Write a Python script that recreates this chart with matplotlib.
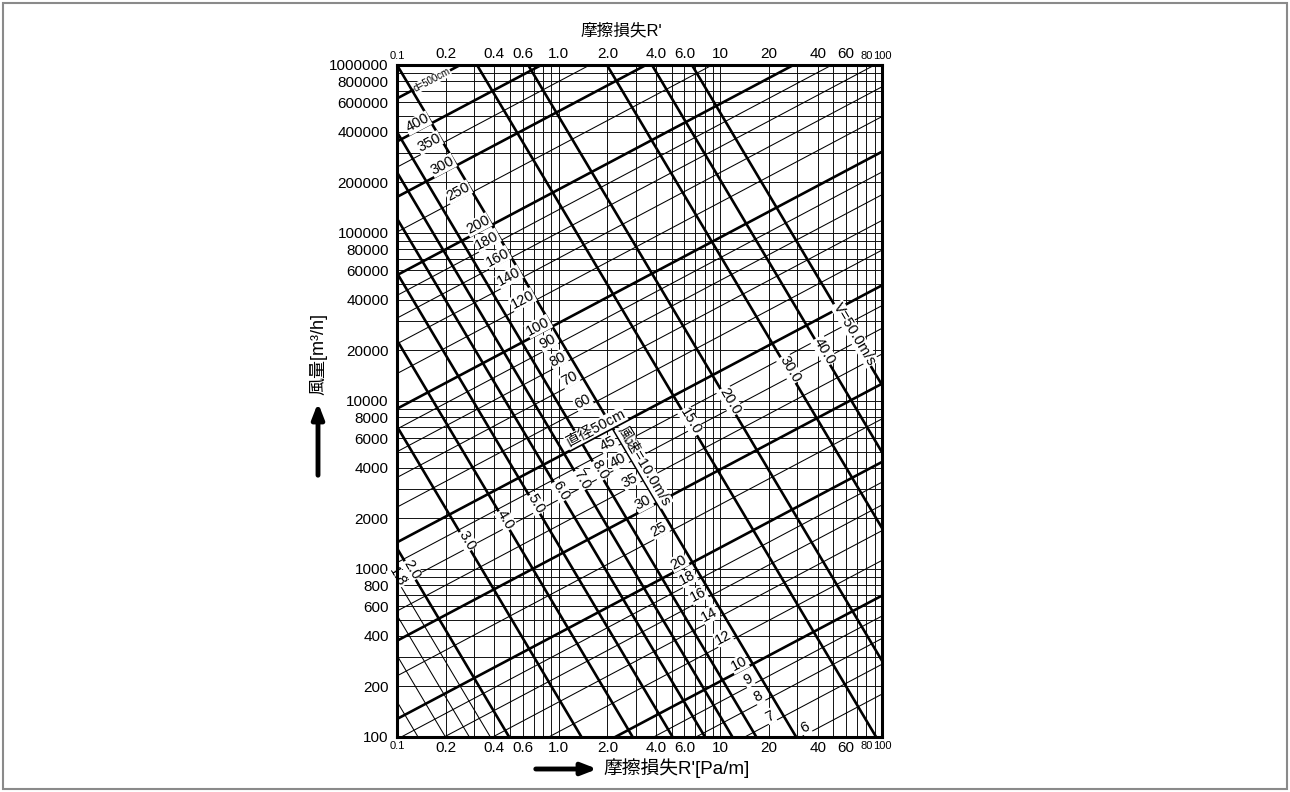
import numpy as np
import matplotlib
matplotlib.use("Agg")
import matplotlib.pyplot as plt
from matplotlib.patches import Rectangle
from matplotlib.ticker import LogLocator, NullFormatter

plt.rcParams['font.family'] = ['Liberation Sans', 'Noto Sans CJK JP', 'DejaVu Sans']

# duct diameter lines [cm]: air volume [m3/h] where each line meets R'=0.1 and R'=100 Pa/m
diam_cm = [500, 400, 350, 300, 250, 200, 180, 160, 140, 120, 100, 90, 80, 70, 60,
           50, 45, 40, 35, 30, 25, 20, 18, 16, 14, 12, 10, 9, 8, 7, 6]
diam_q_r01 = [632000, 350400, 246500, 163900, 101300, 56150, 42500, 31140, 21890, 14560,
              8996, 6810, 4989, 3506, 2334, 1441, 1091, 799, 562, 374, 231, 128, 97, 71,
              49.9, 33.2, 20.5, 15.5, 11.4, 8.0, 5.31]
diam_q_r100 = [21412000, 11872000, 8351000, 5553000, 3432000, 1902000, 1440000, 1055000,
               741600, 493300, 304800, 230700, 169000, 118800, 79080, 48820, 36960, 27070,
               19040, 12670, 7826, 4337, 3286, 2405, 1691, 1125, 694.5, 525, 386, 271, 180]
diam_bold = [500, 400, 300, 200, 100, 50, 30, 20, 10]

# air velocity lines [m/s]: air volume [m3/h] at R'=0.1 and R'=100 Pa/m
vel_ms = [1.2, 1.4, 1.6, 1.8, 2.0, 3.0, 4.0, 5.0, 6.0, 7.0, 8.0, 10.0, 15.0, 20.0, 30.0, 40.0, 50.0]
vel_q_r01 = [162.6, 306, 531, 862, 1330, 7060, 23000, 57800, 122000, 230000, 399000,
             1.0e6, 6.33e6, 2.06e7, 1.27e8, 3.59e8, 9.02e8]
vel_q_r100 = [0.002244, 0.004223, 0.007328, 0.0119, 0.01835, 0.09743, 0.3174, 0.7976, 1.684,
              3.174, 5.506, 13.8, 87.35, 284.3, 1753, 4954, 12450]
vel_thin = [1.2, 1.4, 1.6, 1.8]
vel_unlabeled = [1.2, 1.4, 1.6]

x_ticks = [0.1, 0.2, 0.4, 0.6, 1, 2, 4, 6, 10, 20, 40, 60, 80, 100]
x_ticklabels = ['0.1', '0.2', '0.4', '0.6', '1.0', '2.0', '4.0', '6.0', '10', '20', '40', '60', '80', '100']
y_ticks = [100, 200, 400, 600, 800, 1000, 2000, 4000, 6000, 8000, 10000, 20000, 40000,
           60000, 80000, 100000, 200000, 400000, 600000, 800000, 1000000]

R0, R1 = 0.1, 100

fig = plt.figure(figsize=(12.9, 7.92), dpi=100)
ax = fig.add_axes([397 / 1290, 55 / 792, 485 / 1290, 672 / 792])
ax.set_xscale('log')
ax.set_yscale('log')
ax.set_xlim(R0, R1)
ax.set_ylim(100, 1000000)

# grid
for axis in (ax.xaxis, ax.yaxis):
    axis.set_minor_locator(LogLocator(base=10, subs=range(2, 10)))
    axis.set_minor_formatter(NullFormatter())
ax.set_xticks(x_ticks)
ax.set_xticklabels(x_ticklabels)
ax.set_yticks(y_ticks)
ax.set_yticklabels([str(v) for v in y_ticks])
ax.grid(True, which='both', color='#111111', lw=0.7, zorder=1)
ax.tick_params(axis='x', which='both', length=0, top=True, labeltop=True, pad=3, labelsize=11)
ax.tick_params(axis='y', which='both', length=0, pad=6, labelsize=11)
for t in ax.xaxis.get_major_ticks():
    if t.label1.get_text() in ('0.1', '80', '100'):
        t.label1.set_fontsize(8)
        t.label2.set_fontsize(8)
for s in ax.spines.values():
    s.set_linewidth(2.2)
    s.set_zorder(8)

# lines
for d, ql, qr in zip(diam_cm, diam_q_r01, diam_q_r100):
    lw = 1.9 if d in diam_bold else 0.75
    ax.plot([R0, R1], [ql, qr], color='black', lw=lw, solid_capstyle='butt', zorder=3)
for v, ql, qr in zip(vel_ms, vel_q_r01, vel_q_r100):
    lw = 0.75 if v in vel_thin else 1.9
    ax.plot([R0, R1], [ql, qr], color='black', lw=lw, solid_capstyle='butt', zorder=3)


def crossing(a, b):
    # intersection of two straight lines on the log-log plane
    x0, span = np.log10(R0), np.log10(R1) - np.log10(R0)
    a0, b0 = np.log10(a[0]), np.log10(b[0])
    ma = (np.log10(a[1]) - a0) / span
    mb = (np.log10(b[1]) - b0) / span
    t = (b0 - a0) / (ma - mb)
    return 10 ** (x0 + t), 10 ** (a0 + ma * t)


def angle(line):
    p1 = ax.transData.transform((R0, line[0]))
    p2 = ax.transData.transform((R1, line[1]))
    return np.degrees(np.arctan2(p2[1] - p1[1], p2[0] - p1[0]))


v10 = (vel_q_r01[vel_ms.index(10.0)], vel_q_r100[vel_ms.index(10.0)])
d40 = (diam_q_r01[diam_cm.index(40)], diam_q_r100[diam_cm.index(40)])
box = dict(boxstyle='square,pad=0.04', fc='white', ec='none')

for d, ql, qr in zip(diam_cm, diam_q_r01, diam_q_r100):
    line = (ql, qr)
    x, y = crossing(line, v10)
    rot = angle(line)
    txt, off, ha, fs = str(d), (-14, 0), 'center', 10.5
    if d == 500:
        txt, off, ha, fs = 'd=500cm', (2, 1), 'left', 7
    elif d == 50:
        txt, off = '直径50cm', (-17, 0)
    elif d == 6:
        off = (8, 11)
    ax.annotate(txt, (x, y), xytext=off, textcoords='offset pixels', rotation=rot,
                rotation_mode='anchor', ha=ha, va='center', fontsize=fs, bbox=box,
                zorder=6, annotation_clip=False)

for v, ql, qr in zip(vel_ms, vel_q_r01, vel_q_r100):
    if v in vel_unlabeled:
        continue
    line = (ql, qr)
    x, y = crossing(line, d40)
    rot = angle(line)
    txt, off = f'{v:.1f}', (-2, 7)
    if v == 10.0:
        txt, off = '風速=10.0m/s', (12, -5)
    elif v == 50.0:
        txt, off = 'V=50.0m/s', (-2, 8)
    ax.annotate(txt, (x, y), xytext=off, textcoords='offset pixels', rotation=rot,
                rotation_mode='anchor', ha='center', va='center', fontsize=10.5, bbox=box,
                zorder=6, annotation_clip=False)

# axis titles and arrows
fig.text(621 / 1290, 1 - 31 / 792, "摩擦損失R'", ha='center', va='center', fontsize=12)
fig.text(603 / 1290, 24 / 792, "摩擦損失R'[Pa/m]", ha='left', va='center', fontsize=13.5)
fig.text(318 / 1290, 438 / 792, '風量[m³/h]', ha='center', va='center', rotation=90, fontsize=13)
ax.annotate('', xy=(600, 23), xytext=(533, 23), xycoords='figure pixels',
            arrowprops=dict(arrowstyle='-|>,head_length=0.9,head_width=0.35', lw=3.5, color='black'))
ax.annotate('', xy=(318, 392), xytext=(318, 314), xycoords='figure pixels',
            arrowprops=dict(arrowstyle='-|>,head_length=0.9,head_width=0.35', lw=3.5, color='black'))

fig.patches.append(Rectangle((3 / 1290, 3 / 792), 1284 / 1290, 786 / 792, transform=fig.transFigure,
                             fill=False, ec='#8a8a8a', lw=1.5))

fig.savefig('out.png', dpi=100, facecolor='white')
